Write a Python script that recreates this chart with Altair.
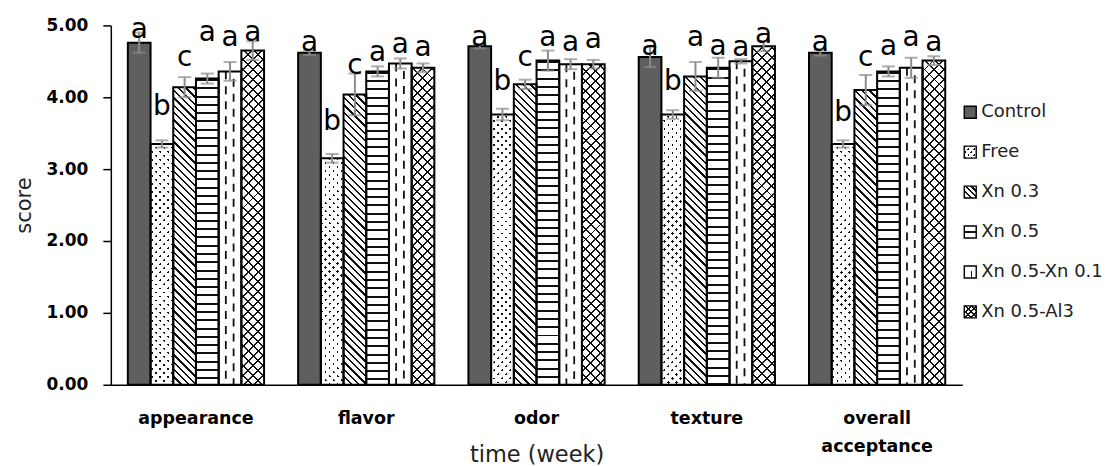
import math
import altair as alt

# ---------------- data ----------------
attrs = ["appearance", "flavor", "odor", "texture", "overall acceptance"]
series = ["Control", "Free", "Xn 0.3", "Xn 0.5", "Xn 0.5-Xn 0.1", "Xn 0.5-Al3"]

mean_control = [4.76, 4.62, 4.71, 4.56, 4.62]
mean_free = [3.35, 3.15, 3.76, 3.76, 3.35]
mean_xn03 = [4.14, 4.04, 4.18, 4.29, 4.10]
mean_xn05 = [4.26, 4.36, 4.51, 4.41, 4.36]
mean_xn05_xn01 = [4.36, 4.47, 4.46, 4.50, 4.41]
mean_xn05_al3 = [4.65, 4.41, 4.46, 4.71, 4.51]

err_control = [0.14, 0.03, 0.03, 0.14, 0.04]
err_free = [0.05, 0.06, 0.08, 0.06, 0.05]
err_xn03 = [0.14, 0.29, 0.065, 0.20, 0.21]
err_xn05 = [0.07, 0.07, 0.14, 0.14, 0.07]
err_xn05_xn01 = [0.13, 0.07, 0.07, 0.03, 0.14]
err_xn05_al3 = [0.13, 0.06, 0.06, 0.07, 0.06]

letters_control = ["a", "a", "a", "a", "a"]
letters_free = ["b", "b", "b", "b", "b"]
letters_xn03 = ["c", "c", "c", "a", "c"]
letters_xn05 = ["a", "a", "a", "a", "a"]
letters_xn05_xn01 = ["a", "a", "a", "a", "a"]
letters_xn05_al3 = ["a", "a", "a", "a", "a"]

# height (score units) where each significance letter sits
letter_y_control = [4.93, 4.76, 4.83, 4.70, 4.76]
letter_y_free = [3.86, 3.65, 4.21, 4.21, 3.78]
letter_y_xn03 = [4.54, 4.44, 4.54, 4.82, 4.54]
letter_y_xn05 = [4.89, 4.61, 4.83, 4.70, 4.70]
letter_y_xn05_xn01 = [4.83, 4.72, 4.76, 4.68, 4.83]
letter_y_xn05_al3 = [4.90, 4.68, 4.79, 4.86, 4.75]

means = [mean_control, mean_free, mean_xn03, mean_xn05, mean_xn05_xn01, mean_xn05_al3]
errs = [err_control, err_free, err_xn03, err_xn05, err_xn05_xn01, err_xn05_al3]
letters = [letters_control, letters_free, letters_xn03, letters_xn05, letters_xn05_xn01, letters_xn05_al3]
letter_ys = [letter_y_control, letter_y_free, letter_y_xn03, letter_y_xn05, letter_y_xn05_xn01, letter_y_xn05_al3]

# ---------------- style / layout ----------------
FONT = "DejaVu Sans"
PLOT_W, PLOT_H, Y_MAX = 853, 360, 5.0
PAD_IN, PAD_OUT = 0.2, 0.1
STEP = PLOT_W / (len(attrs) - PAD_IN + 2 * PAD_OUT)
BAR_W = STEP * (1 - PAD_IN) / len(series)
DASH_SERIES = series.index("Xn 0.5-Xn 0.1")
DASH_CENTER = (DASH_SERIES + 0.5 - len(series) / 2) * BAR_W   # pixel offset from group centre
CLEAR = "rgba(0,0,0,0)"
INK = "#111111"
ERR = "#8c8c8c"
SQ2 = math.sqrt(2)


def stripe_stops(length, period, lw, color, bg, phase=0.0):
    stops = [{"offset": 0.0, "color": bg}]
    pos = phase - period
    while pos < length:
        a, b = max(pos, 0.0), min(pos + lw, length)
        if b > a:
            ra, rb = round(a / length, 5), round(b / length, 5)
            stops += [{"offset": ra, "color": bg}, {"offset": ra, "color": color},
                      {"offset": rb, "color": color}, {"offset": rb, "color": bg}]
        pos += period
    stops.append({"offset": 1.0, "color": bg})
    return stops


def grad(stops, x1, y1, x2, y2):
    return {"gradient": "linear", "x1": x1, "y1": y1, "x2": x2, "y2": y2, "stops": stops}


def hlines(w, h, period, lw, color=INK, bg=CLEAR, phase=0.0):
    return grad(stripe_stops(h, period, lw, color, bg, phase), 0, 0, 0, 1)


def vlines(w, h, period, lw, color=INK, bg=CLEAR, phase=0.0):
    return grad(stripe_stops(w, period, lw, color, bg, phase), 0, 0, 1, 0)


def diag_down(w, h, period, lw, color=INK, bg=CLEAR, phase=0.0):
    k = (w + h) / (w * w + h * h)
    return grad(stripe_stops((w + h) / SQ2, period, lw, color, bg, phase), 0, 1, k * w, 1 - k * h)


def diag_up(w, h, period, lw, color=INK, bg=CLEAR, phase=0.0):
    k = (w + h) / (w * w + h * h)
    return grad(stripe_stops((w + h) / SQ2, period, lw, color, bg, phase), 0, 0, k * w, k * h)


def fills(j, w, h, icon=False):
    if j == 0:   # Control: dense dark checker -> dark grey
        return ["#5f5f5f", CLEAR, CLEAR]
    if j == 1:   # Free: staggered dots
        p = 4.2 if icon else 5.7
        return ["white", diag_down(w, h, p, 1.8),
                diag_up(w, h, p, p - 1.8, color="white", phase=1.8)]
    if j == 2:   # Xn 0.3: diagonal hatch
        return ["white", diag_down(w, h, 4.2 if icon else 5.2, 1.6), CLEAR]
    if j == 3:   # Xn 0.5: horizontal lines
        if icon:
            return ["white", hlines(w, h, 100, 1.6, phase=5.2), CLEAR]
        return ["white", hlines(w, h, 8.3, 2.0, phase=0.5), CLEAR]
    if j == 4:   # Xn 0.5-Xn 0.1: dashes (drawn by rules in bars)
        if icon:
            return ["white", vlines(w, h, 100, 1.6, phase=6.5),
                    hlines(w, h, 100, 5, color="white", phase=0)]
        return ["white", CLEAR, CLEAR]
    # Xn 0.5-Al3: zigzag-like lattice
    p = 4.2 if icon else 7.0
    return ["white", diag_down(w, h, p, 1.4), diag_up(w, h, p, 1.4)]


records = []
for i, a in enumerate(attrs):
    for j, s in enumerate(series):
        v, e = means[j][i], errs[j][i]
        f = fills(j, BAR_W, v * PLOT_H / Y_MAX)
        records.append({"attr": a, "series": s, "value": v, "lo": v - e, "hi": v + e,
                        "letter": letters[j][i], "ly": letter_ys[j][i],
                        "f0": f[0], "f1": f[1], "f2": f[2]})

legend_records = []
for j, s in enumerate(series):
    f = fills(j, 12, 12, icon=True)
    legend_records.append({"series": s, "f0": f[0], "f1": f[1], "f2": f[2]})

data = alt.Data(values=records)
leg_data = alt.Data(values=legend_records)

x_axis = alt.Axis(title="time (week)", labelAngle=0, ticks=False, domainColor="black", domainWidth=1.5,
                  labelFont=FONT, labelFontSize=17.5, labelFontWeight="bold", labelColor="black",
                  labelPadding=25, labelLineHeight=28,
                  labelExpr="datum.label == 'overall acceptance' ? ['overall', 'acceptance'] : datum.label",
                  titleFont=FONT, titleFontSize=22.5, titleFontWeight="normal", titleColor="#222",
                  titleBaseline="alphabetic", titleY=77)
X = alt.X("attr:N", sort=attrs, scale=alt.Scale(paddingInner=PAD_IN, paddingOuter=PAD_OUT), axis=x_axis)
XO = alt.XOffset("series:N", sort=series, scale=alt.Scale(paddingInner=0, paddingOuter=0))
y_axis = alt.Axis(title="score", values=[0, 1, 2, 3, 4, 5], format=".2f", grid=False,
                  domainColor="black", domainWidth=1.5, tickColor="black", tickWidth=1.5, tickSize=8,
                  labelFont=FONT, labelFontSize=17, labelFontWeight="bold", labelColor="black",
                  labelPadding=15, titleFont=FONT, titleFontSize=21, titleFontWeight="normal",
                  titleColor="#222", titlePadding=12)


def Y(field):
    return alt.Y(field, scale=alt.Scale(domain=[0, Y_MAX], nice=False), axis=y_axis)


base = alt.Chart(data)
fill_layers = [base.mark_bar(strokeWidth=0).encode(x=X, xOffset=XO, y=Y("value:Q"),
                                                    fill=alt.Fill(f"{k}:N", scale=None))
               for k in ["f0", "f1", "f2"]]

dash_src = base.transform_filter(f"datum.series == '{series[DASH_SERIES]}'")
dash_a = dash_src.mark_rule(color=INK, strokeWidth=1.8, strokeDash=[8, 7],
                            xOffset=DASH_CENTER - 4.2).encode(
    x=X, y=Y("value:Q"), y2=alt.datum(0))
dash_b = dash_src.mark_rule(color=INK, strokeWidth=1.8, strokeDash=[8, 7], strokeDashOffset=7.5,
                            xOffset=DASH_CENTER + 3.6).encode(
    x=X, y=Y("value:Q"), y2=alt.datum(0))

outline = base.mark_bar(fill="white", fillOpacity=0, stroke="black", strokeWidth=2).encode(
    x=X, xOffset=XO, y=Y("value:Q"))

err_rule = base.mark_rule(color=ERR, strokeWidth=2).encode(x=X, xOffset=XO, y=Y("lo:Q"), y2="hi:Q")
cap_lo = base.mark_tick(color=ERR, thickness=2, size=13).encode(x=X, xOffset=XO, y=Y("lo:Q"))
cap_hi = base.mark_tick(color=ERR, thickness=2, size=13).encode(x=X, xOffset=XO, y=Y("hi:Q"))

text = base.mark_text(font=FONT, fontSize=28, baseline="middle", align="center", color="black").encode(
    x=X, xOffset=XO, y=Y("ly:Q"), text="letter:N")

main = alt.layer(*fill_layers, dash_a, dash_b, outline, err_rule, cap_lo, cap_hi, text)

LEG_TOP = 67
LY = alt.Y("series:N", sort=series, axis=None,
           scale=alt.Scale(range=[LEG_TOP, LEG_TOP + 240], paddingInner=0.7, paddingOuter=0.35))
leg_base = alt.Chart(leg_data)
leg_fills = [leg_base.mark_rect(strokeWidth=0).encode(
    x=alt.value(PLOT_W + 2), x2=alt.value(PLOT_W + 14), y=LY, fill=alt.Fill(f"{k}:N", scale=None))
    for k in ["f0", "f1", "f2"]]
leg_box = leg_base.mark_rect(fill="white", fillOpacity=0, stroke="black", strokeWidth=1.4).encode(
    x=alt.value(PLOT_W + 2), x2=alt.value(PLOT_W + 14), y=LY)
leg_text = leg_base.mark_text(font=FONT, fontSize=18, align="left", baseline="middle", color="#222").encode(
    x=alt.value(PLOT_W + 19), y=LY, text="series:N")
legend = alt.layer(*leg_fills, leg_box, leg_text)

chart = alt.layer(main, legend).resolve_scale(y="independent").properties(
    width=PLOT_W, height=PLOT_H, background="white",
    padding={"left": 5, "top": 8, "right": 2, "bottom": 2},
).configure_view(strokeWidth=0)

chart.save("out.html", embed_options={"renderer": "svg", "actions": False})
